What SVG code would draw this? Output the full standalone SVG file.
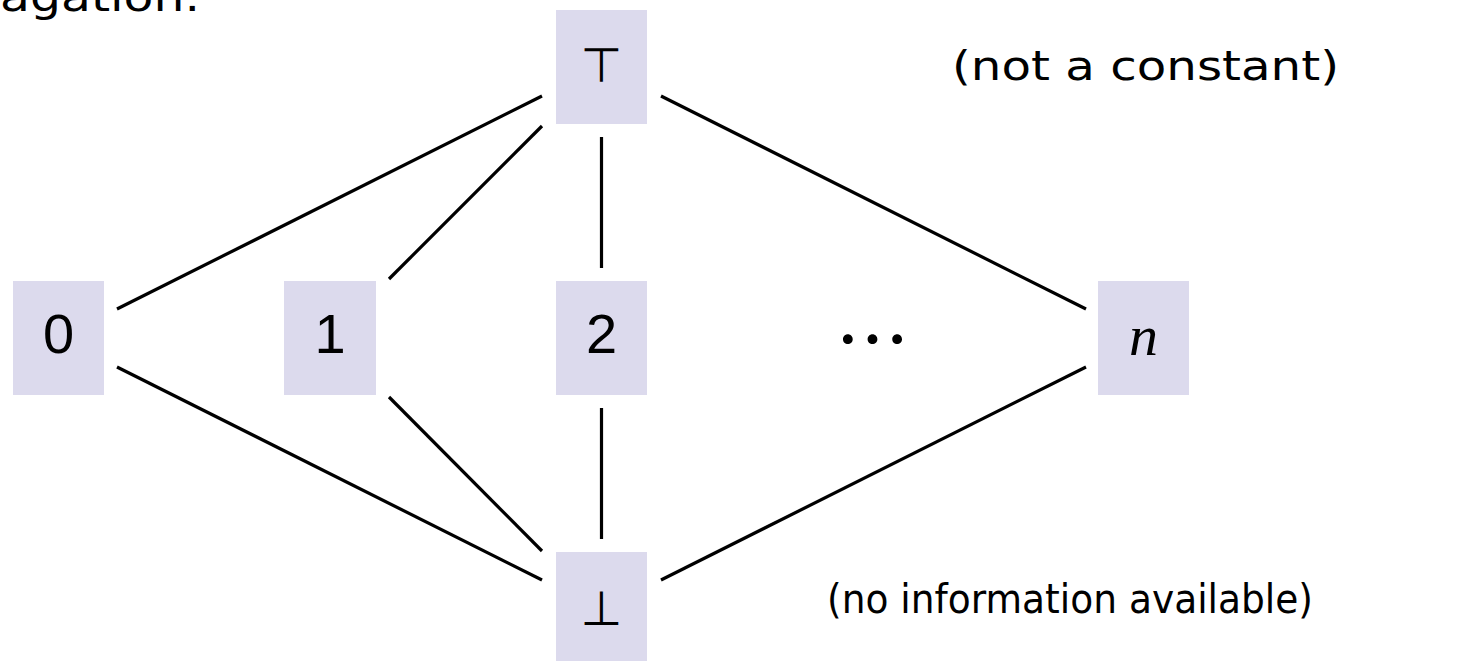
<svg xmlns="http://www.w3.org/2000/svg" width="1461" height="661" viewBox="0 0 1461 661">
<style>
.box{fill:#dcdaed}
.edge{stroke:#000;stroke-width:3.2;fill:none;stroke-linecap:butt}
.lbl{font-family:"Liberation Sans",Arial,sans-serif;font-size:56px;fill:#000;text-anchor:middle}
.math{font-family:"DejaVu Sans",sans-serif;font-size:48px;fill:#000;text-anchor:middle}
.dots{font-family:"Noto Sans CJK SC","Noto Sans CJK JP",sans-serif;font-size:74px;fill:#000;text-anchor:middle}
.var{font-family:"Liberation Serif","Times New Roman",serif;font-style:italic;font-size:58px;fill:#000;text-anchor:middle}
.note{font-family:"DejaVu Sans",sans-serif;font-size:40px;fill:#000}
</style>
<rect width="1461" height="661" fill="#fff"/>
<text class="note" x="0" y="11" textLength="200" lengthAdjust="spacingAndGlyphs">agation.</text>
<g id="connectors">
<line class="edge" x1="117" y1="309" x2="542" y2="96"/>
<line class="edge" x1="117" y1="367" x2="542" y2="580"/>
<line class="edge" x1="389" y1="279" x2="542" y2="126"/>
<line class="edge" x1="389" y1="397" x2="542" y2="551"/>
<line class="edge" x1="601.5" y1="137" x2="601.5" y2="268"/>
<line class="edge" x1="601.5" y1="408" x2="601.5" y2="539"/>
<line class="edge" x1="661" y1="96" x2="1086" y2="309"/>
<line class="edge" x1="661" y1="580" x2="1086" y2="367"/>
</g>
<g id="top">
<rect class="box" x="556" y="10" width="91" height="114"/>
<text class="math" x="601.5" y="82">⊤</text>
</g>
<g id="n0">
<rect class="box" x="13" y="281" width="91" height="114"/>
<text class="lbl" x="58.5" y="353">0</text>
</g>
<g id="n1">
<rect class="box" x="284" y="281" width="92" height="114"/>
<text class="lbl" x="330" y="353">1</text>
</g>
<g id="n2">
<rect class="box" x="556" y="281" width="91" height="114"/>
<text class="lbl" x="601.5" y="353">2</text>
</g>
<g id="dots">
<text class="dots" x="872.5" y="367">⋯</text>
</g>
<g id="nn">
<rect class="box" x="1098" y="281" width="91" height="114"/>
<text class="var" x="1143.5" y="355">n</text>
</g>
<g id="bottom">
<rect class="box" x="556" y="552" width="91" height="114"/>
<text class="math" x="601.5" y="625">⊥</text>
</g>
<text class="note" x="952" y="80" textLength="387" lengthAdjust="spacingAndGlyphs">(not a constant)</text>
<text class="note" x="827" y="613" textLength="486" lengthAdjust="spacingAndGlyphs">(no information available)</text>
</svg>
